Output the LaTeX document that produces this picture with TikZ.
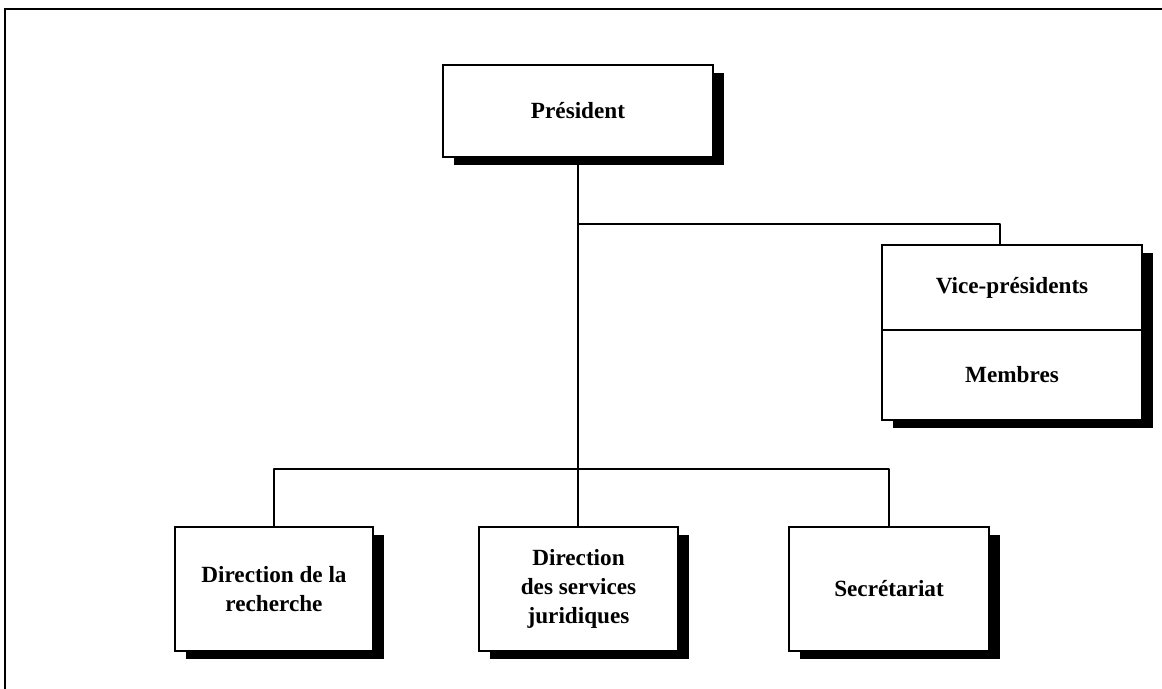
\documentclass[tikz,border=0pt]{standalone}
\usepackage{fontspec}
\setmainfont{Liberation Serif}
\usetikzlibrary{shadows}
\begin{document}
\begin{tikzpicture}[x=0.75pt,y=0.75pt]
\definecolor{drawColor}{RGB}{0,0,0}
\definecolor{fillColor}{RGB}{255,255,255}
\tikzset{
  unitbox/.style={draw=drawColor,fill=fillColor,line width=1.5pt,inner sep=0pt,align=center,
    font=\fontsize{17.4}{21.75}\selectfont\bfseries,
    drop shadow={shadow xshift=8pt,shadow yshift=-6pt,fill=drawColor,opacity=1}},
  link/.style={draw=drawColor,line width=1.5pt,line join=round}
}
\path[use as bounding box,fill=fillColor] (0,0) rectangle (1162,688);
\begin{scope}
\path[clip] (0,0) rectangle (1162,688);
\path[draw=drawColor,line width=1.6pt] (5,-20) rectangle (1180,679);
\end{scope}

\coordinate (vj) at (578,464);
\coordinate (vtop) at (1000,443);
\coordinate (bar) at (578,219);

\node[unitbox,minimum width=202.5pt,minimum height=69pt] (pres) at (578,577) {Président};

\node[unitbox,minimum width=195pt,minimum height=63.75pt] (vice) at (1012,400.5) {Vice-présidents};
\node[unitbox,minimum width=195pt,minimum height=67.5pt] (memb) at (1012,313) {Membres};

\node[unitbox,minimum width=148.5pt,minimum height=93pt] (rech) at (274,99) {Direction de la\\recherche};
\node[unitbox,minimum width=149.25pt,minimum height=93pt] (jur) at (578.5,99) {Direction\\des services\\juridiques};
\node[unitbox,minimum width=150pt,minimum height=93pt] (secr) at (889,99) {Secrétariat};

\path[link] (pres.south) -- (jur.north -| pres.south);
\path[link] (vj) -| (vtop);
\path[link] (bar) -| (rech.north);
\path[link] (bar) -| (secr.north);
\end{tikzpicture}
\end{document}
